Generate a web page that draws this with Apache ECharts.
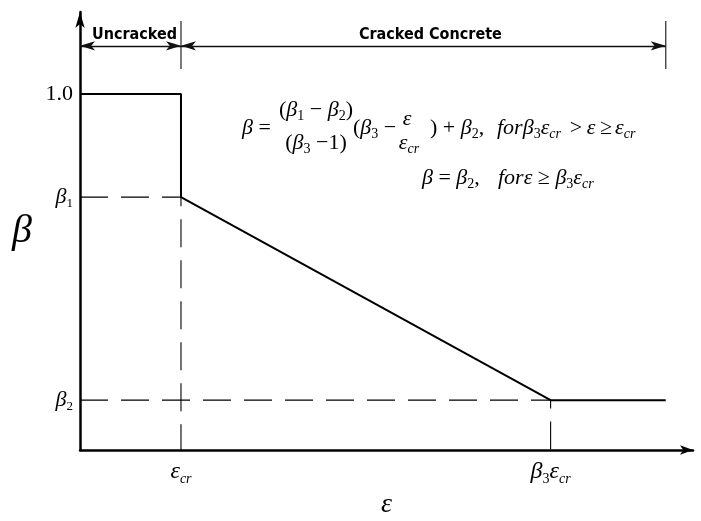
<!DOCTYPE html>
<html>
<head>
<meta charset="utf-8">
<script src="https://cdn.jsdelivr.net/npm/echarts@6/dist/echarts.min.js"></script>
<style>
  html, body { margin: 0; padding: 0; background: #fff; }
  #chart { width: 701px; height: 521px; }
</style>
</head>
<body>
<div id="chart"></div>
<script>
// Tension-softening retention factor β against strain ε (strain in units of ε_cr)
const strain = [0, 1, 1, 4.66, 5.8];
const beta = [1.0, 1.0, 0.71, 0.14, 0.14];

const beta1 = 0.71;
const beta2 = 0.14;
const epsCr = 1;
const beta3EpsCr = 4.66;

// Zone boundaries along the strain axis and their captions
const zoneEdges = [0, 1, 5.8];
const zoneNames = ['Uncracked', 'Cracked Concrete'];

// Axis tick labels (rich-text markup for subscripts)
const yTickValues = [1.0, beta1, beta2];
const yTickLabels = ['{n|1.0}', '{i|β}{s|1}', '{i|β}{s|2}'];
const xTickValues = [epsCr, beta3EpsCr];
const xTickLabels = ['{i|ε}{si|cr}', '{i|β}{s|3}{i|ε}{si|cr}'];

const serif = '"Liberation Serif", "Times New Roman", serif';
const dimFont = '"DejaVu Sans Condensed", "DejaVu Sans", sans-serif';

function mathRich(size, subSize, lh) {
  const base = { fontFamily: serif, color: '#000', fill: '#000' };
  return {
    n: Object.assign({}, base, { fontSize: size, lineHeight: lh, verticalAlign: 'middle' }),
    i: Object.assign({}, base, { fontStyle: 'italic', fontSize: size, lineHeight: lh, verticalAlign: 'middle' }),
    s: Object.assign({}, base, { fontSize: subSize, lineHeight: subSize, verticalAlign: 'bottom' }),
    si: Object.assign({}, base, { fontStyle: 'italic', fontSize: subSize, lineHeight: subSize, verticalAlign: 'bottom' })
  };
}

function pickLabel(values, labels) {
  return function (v) {
    const k = values.findIndex(t => Math.abs(t - v) < 1e-6);
    return k < 0 ? '' : labels[k];
  };
}

const toPairs = (xs, ys) => xs.map((x, i) => [x, ys[i]]);

// Level of the zone dimension arrows and extent of their end ticks
const dimLevel = 1.135;
const dimTick = [1.07, 1.205];

const dashed = { color: '#000', width: 1.1, type: [28, 13] };

const series = [
  {
    type: 'line',
    data: [[0, beta1], [epsCr, beta1], [epsCr, 0]],
    symbol: 'none', lineStyle: dashed, silent: true, z: 2
  },
  {
    type: 'line',
    data: [[0, beta2], [beta3EpsCr, beta2], [beta3EpsCr, 0]],
    symbol: 'none', lineStyle: dashed, silent: true, z: 2
  },
  {
    type: 'line',
    data: toPairs(strain, beta),
    symbol: 'none',
    lineStyle: { color: '#000', width: 2 },
    silent: true, z: 3
  }
];

zoneEdges.slice(1).forEach(x => {
  series.push({
    type: 'line',
    data: [[x, dimTick[0]], [x, dimTick[1]]],
    symbol: 'none',
    lineStyle: { color: '#444', width: 1.4 },
    silent: true, z: 2
  });
});

const labelShift = [8, 14];
series.push({
  type: 'line',
  data: [],
  silent: true,
  markLine: {
    silent: true,
    symbol: ['arrow', 'arrow'],
    symbolSize: [7, 15],
    lineStyle: { color: '#111', width: 1.3, type: 'solid' },
    label: {
      show: true,
      position: 'insideMiddleTop',
      distance: 3,
      color: '#000',
      fontFamily: dimFont,
      fontWeight: 'bold',
      fontSize: 16
    },
    data: zoneNames.map((name, i) => [
      {
        coord: [zoneEdges[i], dimLevel],
        label: { formatter: name, padding: [0, 0, 0, labelShift[i]] }
      },
      { coord: [zoneEdges[i + 1], dimLevel] }
    ])
  }
});

// Formula annotation
const eqRich = mathRich(22, 14, 27);
function eqText(x, y, text, align) {
  return {
    type: 'text', x: x, y: y, silent: true,
    style: {
      text: text, rich: eqRich, fill: '#000',
      font: '22px ' + serif,
      textAlign: align || 'left', textVerticalAlign: 'middle'
    }
  };
}
const graphic = [
  eqText(242, 128, '{i|β}{n| =}'),
  eqText(316, 110, '{n|(}{i|β}{s|1}{n| − }{i|β}{s|2}{n|)}', 'center'),
  eqText(316, 143, '{n|(}{i|β}{s|3}{n| −1)}', 'center'),
  eqText(353, 128, '{n|(}{i|β}{s|3}{n| −}'),
  eqText(407, 119, '{i|ε}', 'center'),
  eqText(409, 143, '{i|ε}{si|cr}', 'center'),
  eqText(430, 128, '{n|) + }{i|β}{s|2}{n|,}'),
  eqText(497, 128, '{i|forβ}{s|3}{i|ε}{si|cr}'),
  eqText(576, 128, '{n|>}', 'center'),
  eqText(591, 128, '{i|ε}', 'center'),
  eqText(606, 128, '{n|≥}', 'center'),
  eqText(615, 128, '{i|ε}{si|cr}'),
  eqText(422, 178, '{i|β}{n| = }{i|β}{s|2}{n|,}'),
  eqText(498, 178, '{i|forε}{n| ≥ }{i|β}{s|3}{i|ε}{si|cr}')
];

const chart = echarts.init(document.getElementById('chart'));
chart.setOption({
  animation: false,
  backgroundColor: '#fff',
  grid: { left: 80, right: 8, top: 12, bottom: 71, outerBoundsMode: 'none', containLabel: false },
  xAxis: {
    type: 'value', min: 0, max: 6.07,
    name: 'ε', nameLocation: 'middle', nameGap: 40,
    nameTextStyle: { fontFamily: serif, fontStyle: 'italic', fontSize: 28, lineHeight: 28, color: '#000' },
    axisLine: { show: true, symbol: ['none', 'arrow'], symbolSize: [7, 13], lineStyle: { color: '#000', width: 2.5 } },
    axisTick: { show: false },
    splitLine: { show: false },
    axisLabel: {
      customValues: xTickValues,
      formatter: pickLabel(xTickValues, xTickLabels),
      margin: 8,
      rich: mathRich(24, 14, 28)
    }
  },
  yAxis: {
    type: 'value', min: 0, max: 1.23,
    name: 'β', nameLocation: 'middle', nameGap: 48, nameRotate: 0,
    nameTextStyle: { fontFamily: serif, fontStyle: 'italic', fontSize: 40, lineHeight: 40, color: '#000', padding: [14, 0, 0, 0] },
    axisLine: { show: true, symbol: ['none', 'arrow'], symbolSize: [7, 16], lineStyle: { color: '#000', width: 2.5 } },
    axisTick: { show: false },
    splitLine: { show: false },
    axisLabel: {
      customValues: yTickValues,
      formatter: pickLabel(yTickValues, yTickLabels),
      margin: 7,
      rich: mathRich(22, 13, 26)
    }
  },
  series: series,
  graphic: graphic
});
</script>
</body>
</html>
